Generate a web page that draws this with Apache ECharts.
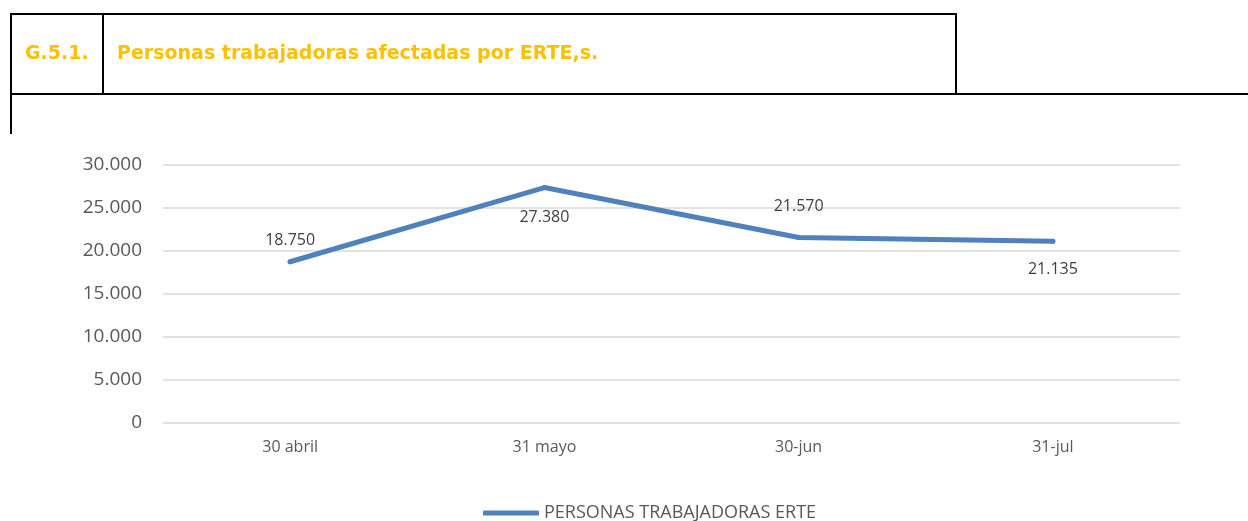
<!DOCTYPE html>
<html>
<head>
<meta charset="utf-8">
<title>Personas trabajadoras afectadas por ERTE</title>
<script src="https://cdn.jsdelivr.net/npm/echarts@6/dist/echarts.min.js"></script>
<style>
  html, body { margin: 0; padding: 0; background: #fff; }
  #chart { width: 1248px; height: 521px; }
</style>
</head>
<body>
<div id="chart"></div>
<script>
  // datos del gráfico
  var categorias = ['30 abril', '31 mayo', '30-jun', '31-jul'];
  var personasErte = [18750, 27380, 21570, 21135];
  var posEtiquetas = ['top', 'bottom', 'top', 'bottom'];
  var distEtiquetas = [11, 19, 21, 18];
  var nombreSerie = 'PERSONAS TRABAJADORAS ERTE';
  var codigo = 'G.5.1.';
  var titulo = 'Personas trabajadoras afectadas por ERTE,s.';

  function formatoMiles(v) {
    return String(v).replace(/\B(?=(\d{3})+(?!\d))/g, '.');
  }

  var chartDom = document.getElementById('chart');
  var myChart = echarts.init(chartDom);
  var fuente = '"Open Sans", "Liberation Sans", sans-serif';
  var lineaCaja = { stroke: '#000', lineWidth: 2 };

  var puntos = personasErte.map(function (v, i) {
    return {
      value: v,
      label: { position: posEtiquetas[i], distance: distEtiquetas[i] }
    };
  });

  var option = {
    animation: false,
    textStyle: { fontFamily: fuente },
    graphic: [
      // cabecera tipo tabla
      { type: 'line', shape: { x1: 10, y1: 14, x2: 957, y2: 14 }, style: lineaCaja },
      { type: 'line', shape: { x1: 10, y1: 94, x2: 1248, y2: 94 }, style: lineaCaja },
      { type: 'line', shape: { x1: 11, y1: 14, x2: 11, y2: 134 }, style: lineaCaja },
      { type: 'line', shape: { x1: 103, y1: 14, x2: 103, y2: 94 }, style: lineaCaja },
      { type: 'line', shape: { x1: 956, y1: 14, x2: 956, y2: 94 }, style: lineaCaja },
      {
        type: 'text', left: 25, top: 45,
        style: { text: codigo, fill: '#FFC000', font: 'bold 19px "DejaVu Sans", sans-serif' }
      },
      {
        type: 'text', left: 117, top: 45,
        style: { text: titulo, fill: '#FFC000', font: 'bold 19px "DejaVu Sans", sans-serif' }
      }
    ],
    legend: {
      data: [nombreSerie],
      top: 498,
      left: 478,
      icon: 'roundRect',
      itemWidth: 56,
      itemHeight: 5,
      itemGap: 4,
      textStyle: { color: '#595959', fontSize: 18, lineHeight: 20, fontFamily: fuente }
    },
    grid: {
      left: 163,
      right: 68,
      top: 165,
      bottom: 98,
      containLabel: false
    },
    xAxis: {
      type: 'category',
      data: categorias,
      boundaryGap: true,
      axisLine: { show: false },
      axisTick: { show: false },
      axisLabel: { color: '#595959', fontSize: 16, margin: 16 }
    },
    yAxis: {
      type: 'value',
      min: 0,
      max: 30000,
      interval: 5000,
      axisLine: { show: false },
      axisTick: { show: false },
      axisLabel: {
        color: '#595959',
        fontSize: 19,
        margin: 21,
        formatter: formatoMiles
      },
      splitLine: { lineStyle: { color: '#d9d9d9', width: 1.5 } }
    },
    series: [
      {
        name: nombreSerie,
        type: 'line',
        data: puntos,
        symbol: 'circle',
        symbolSize: 5,
        itemStyle: { color: '#4F81BD' },
        lineStyle: { color: '#4F81BD', width: 5, cap: 'round', join: 'round' },
        label: {
          show: true,
          color: '#404040',
          fontSize: 16,
          formatter: function (p) { return formatoMiles(p.value); }
        }
      }
    ]
  };
  option && myChart.setOption(option);
</script>
</body>
</html>
